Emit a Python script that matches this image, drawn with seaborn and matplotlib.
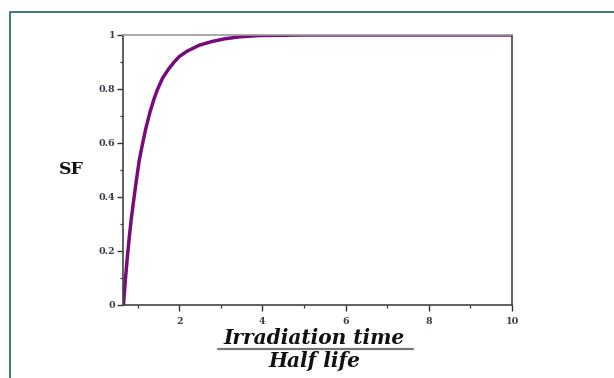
import matplotlib
matplotlib.use("Agg")
import matplotlib.pyplot as plt
from matplotlib.lines import Line2D
from matplotlib.ticker import MultipleLocator
import seaborn as sns
import pandas as pd

# Data
ratio = [0.66, 0.70, 0.75, 0.80, 0.85, 0.90, 0.97, 1.04, 1.11, 1.20, 1.30,
         1.40, 1.47, 1.60, 1.75, 1.88, 2.00, 2.19, 2.48, 2.79, 3.10, 3.44,
         3.92, 5.0, 6.0, 7.0, 8.0, 9.0, 10.0]
sf = [0.00, 0.08, 0.17, 0.25, 0.32, 0.38, 0.46, 0.535, 0.59, 0.655, 0.715,
      0.765, 0.795, 0.84, 0.875, 0.90, 0.92, 0.94, 0.962, 0.976, 0.986, 0.993,
      0.998, 1.0, 1.0, 1.0, 1.0, 1.0, 1.0]
x_ticks = [2, 4, 6, 8, 10]
y_ticks = [0, 0.2, 0.4, 0.6, 0.8, 1]
y_tick_labels = ["0", "0.2", "0.4", "0.6", "0.8", "1"]

df = pd.DataFrame({"ratio": ratio, "SF": sf})

sns.set_style("ticks")
plt.rcParams["font.family"] = ["DejaVu Serif", "Liberation Serif"]

W, H = 614, 378
fig = plt.figure(figsize=(W / 100, H / 100), dpi=100)
ax = fig.add_axes([123 / W, 1 - 305 / H, (512 - 123) / W, (305 - 35) / H])

sns.lineplot(data=df, x="ratio", y="SF", ax=ax, color="#780a7c",
             linewidth=2.5, estimator=None, sort=False)

ax.set_xlim(0.65, 10)
ax.set_ylim(0, 1)
ax.set_xticks(x_ticks)
ax.set_xticklabels([str(t) for t in x_ticks])
ax.set_yticks(y_ticks)
ax.set_yticklabels(y_tick_labels)
ax.xaxis.set_minor_locator(MultipleLocator(1))
ax.yaxis.set_minor_locator(MultipleLocator(0.1))
ax.tick_params(axis="both", which="major", length=4, width=1.0,
               color="#333333", labelsize=6.8, labelcolor="#3a3a4a")
ax.tick_params(axis="x", which="major", pad=5)
ax.tick_params(axis="y", which="major", pad=1.5)
ax.tick_params(axis="both", which="minor", length=2.5, width=0.9,
               color="#333333")
for lab in ax.get_xticklabels() + ax.get_yticklabels():
    lab.set_fontweight("bold")

for side in ["left", "right", "top", "bottom"]:
    ax.spines[side].set_visible(True)
    ax.spines[side].set_linewidth(1.2)
ax.spines["left"].set_color("#444444")
ax.spines["bottom"].set_color("#444444")
ax.spines["right"].set_color("#444444")
ax.spines["top"].set_color("#999999")

ax.set_xlabel("")
ax.set_ylabel("")

# y label "SF"
fig.text(71 / W, 1 - 170 / H, "SF", ha="center", va="center",
         fontsize=12.5, fontweight="bold", color="#111111")

# x label as a fraction
fig.text(314 / W, 1 - 344 / H, "Irradiation time", ha="center",
         va="baseline", fontsize=14.5, fontweight="bold", style="italic",
         color="#111111")
fig.add_artist(Line2D([218 / W, 413 / W], [1 - 349 / H, 1 - 349 / H],
                      transform=fig.transFigure, color="#777777",
                      linewidth=1.6))
fig.text(314 / W, 1 - 367 / H, "Half life", ha="center", va="baseline",
         fontsize=14.5, fontweight="bold", style="italic", color="#111111")

# outer panel border (teal)
fig.add_artist(Line2D([10 / W, 10 / W, 1.0], [0.0, 1 - 12 / H, 1 - 12 / H],
                      transform=fig.transFigure, color="#2f6f70",
                      linewidth=1.3))

fig.savefig("out.png", dpi=100)
